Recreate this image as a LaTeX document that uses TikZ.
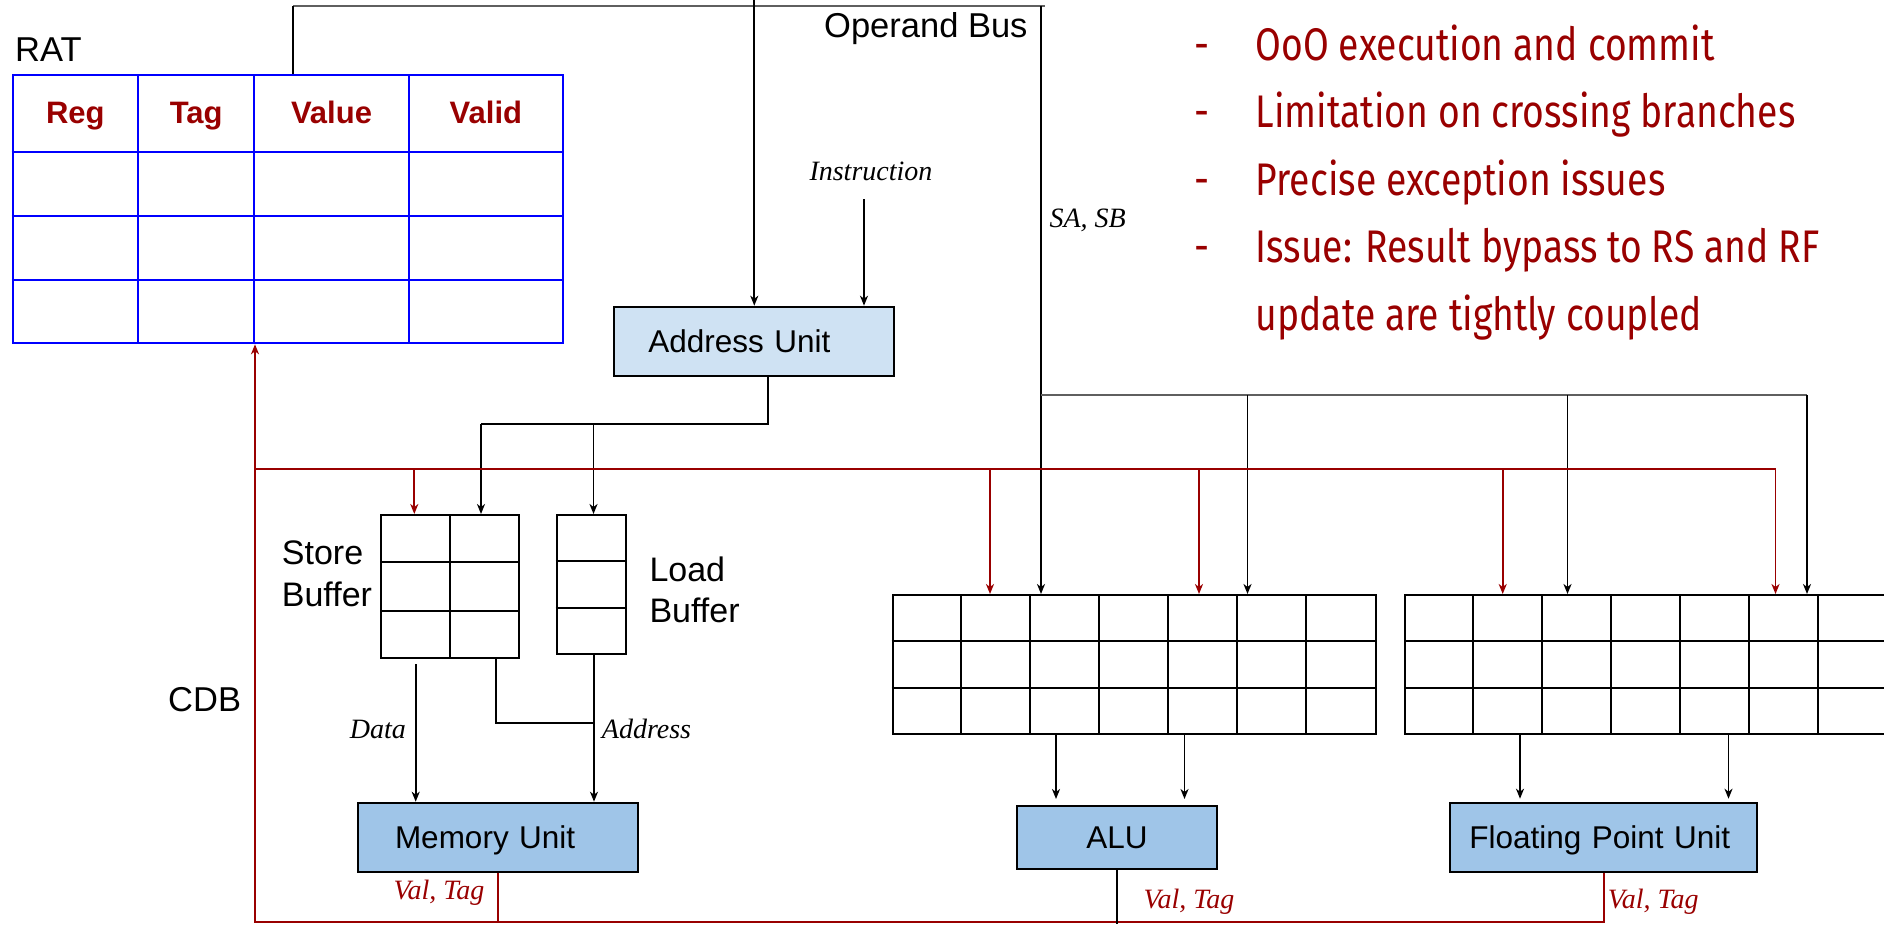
\documentclass[tikz,border=0pt]{standalone}
\usepackage{fontspec}
\newfontfamily\arialfont{Liberation Sans}
\newfontfamily\timesfont{Liberation Serif}
\newfontfamily\slidefont[FakeStretch=0.816]{Fira Sans}
\usetikzlibrary{arrows.meta,calc}
\definecolor{darkred}{HTML}{990000}
\definecolor{ratblue}{HTML}{0000FF}
\definecolor{aublue}{HTML}{CFE2F3}
\definecolor{fublue}{HTML}{9FC5E8}
\definecolor{busgray}{HTML}{5F5F5F}
\tikzset{
  >={Stealth[length=10pt,width=8pt,inset=3pt]},
  wire/.style={line width=1.7pt},
  bus/.style={line width=1.8pt, draw=busgray},
  cdb/.style={line width=1.8pt, draw=darkred},
  unitbox/.style={draw, line width=2pt, fill=fublue, minimum height=69pt,
    text height=23pt, text depth=0pt, inner ysep=0pt,
    font=\arialfont\fontsize{31.5}{36}\selectfont},
  gridbox/.style={draw, line width=2pt, inner sep=0pt},
  txt/.style={inner sep=0pt, font=\arialfont\fontsize{34.5}{40}\selectfont},
  hdr/.style={inner sep=0pt, anchor=base, text=darkred,
    font=\arialfont\bfseries\fontsize{31}{36}\selectfont},
  itlabel/.style={inner sep=0pt, anchor=base west, font=\timesfont\itshape\fontsize{28}{32}\selectfont},
  point/.style={inner sep=0pt, anchor=base west, text=darkred,
    font=\slidefont\fontsize{45.7}{50}\selectfont}
}
\begin{document}
\begin{tikzpicture}[x=1pt, y=-1pt]
  \useasboundingbox (0,0) rectangle (1884,924);
  \clip (0,0) rectangle (1884,924);

  % register alias table
  \node[txt, anchor=base west] (ratname) at (15,61.7) {RAT};
  \node[gridbox, draw=ratblue, minimum width=550.3pt, minimum height=268.3pt] (rat) at (287.85,209.15) {};
  \foreach \y in {151.7,216,279.7}
    \draw[ratblue, line width=2pt] (rat.west |- 0,\y) -- (rat.east |- 0,\y);
  \foreach \x in {138,254.3,408.7}
    \draw[ratblue, line width=2pt] (\x,0 |- rat.north) -- (\x,0 |- rat.south);
  \foreach \name/\x/\t in {reg/75.3/Reg, tag/196.2/Tag, val/331.5/Value, vld/485.9/Valid}
    \node[hdr] (h-\name) at (\x,123.3) {\t};

  % units
  \node[unitbox, fill=aublue, minimum width=280pt, inner xsep=34pt, text width=212pt, align=left] (au) at (754.3,341.2) {Address Unit};
  \node[unitbox, minimum width=280pt, inner xsep=36.7pt, text width=206.6pt, align=left] (mu) at (498.3,837.2) {Memory Unit};
  \node[unitbox, minimum width=200.6pt, minimum height=62.7pt] (alu) at (1117,837.35) {ALU};
  \node[unitbox, minimum width=307.3pt, inner xsep=19.3pt, text width=268.7pt, align=left] (fpu) at (1603.65,837.2) {Floating Point Unit};

  % buffers and reservation stations
  \node[gridbox, minimum width=138pt, minimum height=143.3pt] (sb) at (450,586.65) {};
  \node[gridbox, minimum width=69.3pt, minimum height=139pt] (lb) at (591.35,584.5) {};
  \node[gridbox, minimum width=483pt, minimum height=139pt] (rsalu) at (1134.2,664.5) {};
  \node[gridbox, minimum width=483pt, minimum height=139pt] (rsfp) at (1646.5,664.5) {};
  \draw[line width=2pt] (sb.north) -- (sb.south);
  \foreach \b in {sb,lb,rsalu,rsfp}
    \foreach \f in {1,2}
      \draw[line width=2pt] ($(\b.north west)!\f/3!(\b.south west)$) -- ($(\b.north east)!\f/3!(\b.south east)$);
  \foreach \b in {rsalu,rsfp}
    \foreach \i in {1,...,6}
      \draw[line width=2pt] ($(\b.north west)+(69*\i,0)$) -- ($(\b.south west)+(69*\i,0)$);
  \node[txt, anchor=west, align=left, font=\arialfont\fontsize{34}{42.3}\selectfont] (sbname) at (281.7,574) {Store\\Buffer};
  \node[txt, anchor=west, align=left, font=\arialfont\fontsize{34}{41}\selectfont] (lbname) at (649.3,590) {Load\\Buffer};

  % operand bus
  \coordinate (ob-l) at (293,6);
  \coordinate (ob-r) at (1045,6);
  \coordinate (ob-d) at (1041,6);
  \coordinate (ob-j) at (1041,395);
  \coordinate (ob-e) at (1807,395);
  \coordinate (ob-au) at (754.3,0);
  \node[txt, anchor=base east] (obname) at (1027.7,37.7) {Operand Bus};
  \draw[bus] (ob-l) -- (ob-r);
  \draw[wire] (ob-l) -- (ob-l |- rat.north);
  \draw[wire,->] (ob-au) -- (au.north);
  \draw[wire,->] (ob-d) -- (ob-d |- rsalu.north);
  \draw[bus] (ob-j) -- (ob-e);
  \draw[wire,->] (ob-j -| 1247.5,0) -- (rsalu.north -| 1247.5,0);
  \draw[wire,->] (ob-j -| 1567.5,0) -- (rsfp.north -| 1567.5,0);
  \draw[wire,->] (ob-e) -- (ob-e |- rsfp.north);
  \node[itlabel] (sasb) at (1049.3,227.3) {SA, SB};

  % instruction into the address unit
  \node[itlabel] (instr) at (809.3,180) {Instruction};
  \coordinate (instr-in) at (864,199);
  \draw[wire,->] (instr-in) -- (instr-in |- au.north);

  % address unit to the buffers
  \coordinate (au-o) at (768.3,424);
  \coordinate (au-s) at (481,424);
  \draw[wire] (au.south -| au-o) -- (au-o) -- (au-s);
  \draw[wire,->] (au-s) -- (au-s |- sb.north);
  \draw[wire,->] (au-o -| 593.5,0) -- (lb.north -| 593.5,0);

  % buffers to the memory unit
  \coordinate (sb-d) at (415.7,664);
  \coordinate (sb-a) at (496,723.3);
  \coordinate (lb-o) at (594,654);
  \draw[wire,->] (sb-d) -- (sb-d |- mu.north);
  \draw[wire] (sb.south -| sb-a) -- (sb-a) -- (sb-a -| lb-o);
  \draw[wire,->] (lb-o) -- (lb-o |- mu.north);
  \node[itlabel, anchor=base east] (data) at (406,738) {Data};
  \node[itlabel] (addr) at (601.7,738) {Address};

  % reservation stations to the units
  \foreach \x in {1056,1184.5}
    \draw[wire,->,shorten >=6pt] (rsalu.south -| \x,0) -- (alu.north -| \x,0);
  \foreach \x in {1520,1728.5}
    \draw[wire,->,shorten >=3pt] (rsfp.south -| \x,0) -- (fpu.north -| \x,0);

  % common data bus
  \coordinate (cdb-c) at (255,921.7);
  \coordinate (cdb-t) at (255,469);
  \coordinate (cdb-e) at (1775.5,469);
  \node[txt, anchor=base west] (cdbname) at (168,711.5) {CDB};
  \draw[cdb,->] (fpu.south) |- (cdb-c) -- (cdb-c |- rat.south);
  \draw[cdb] (cdb-t) -- (cdb-e);
  \draw[cdb] (mu.south) -- (mu.south |- cdb-c);
  \draw[wire] (alu.south) -- (alu.south |- 0,924);
  \draw[cdb,->] (cdb-t -| 414.3,0) -- (sb.north -| 414.3,0);
  \foreach \x in {990,1199}
    \draw[cdb,->] (cdb-t -| \x,0) -- (rsalu.north -| \x,0);
  \draw[cdb,->] (cdb-t -| 1502.7,0) -- (rsfp.north -| 1502.7,0);
  \draw[cdb,->] (cdb-e) -- (cdb-e |- rsfp.north);
  \node[itlabel, text=darkred] (vt-mu) at (393.3,899.3) {Val, Tag};
  \node[itlabel, text=darkred] (vt-alu) at (1143.3,908) {Val, Tag};
  \node[itlabel, text=darkred] (vt-fpu) at (1607.7,908.3) {Val, Tag};

  % notes
  \foreach \t [count=\i from 0] in {OoO execution and commit, Limitation on crossing branches,
      Precise exception issues, Issue: Result bypass to RS and RF} {
    \node[point] (dash\i) at (1194,60+67.6*\i) {-};
    \node[point] (pt\i) at (1255.5,60+67.6*\i) {\t};
  }
  \node[point] (pt4) at (1255.5,330.4) {update are tightly coupled};
\end{tikzpicture}
\end{document}
